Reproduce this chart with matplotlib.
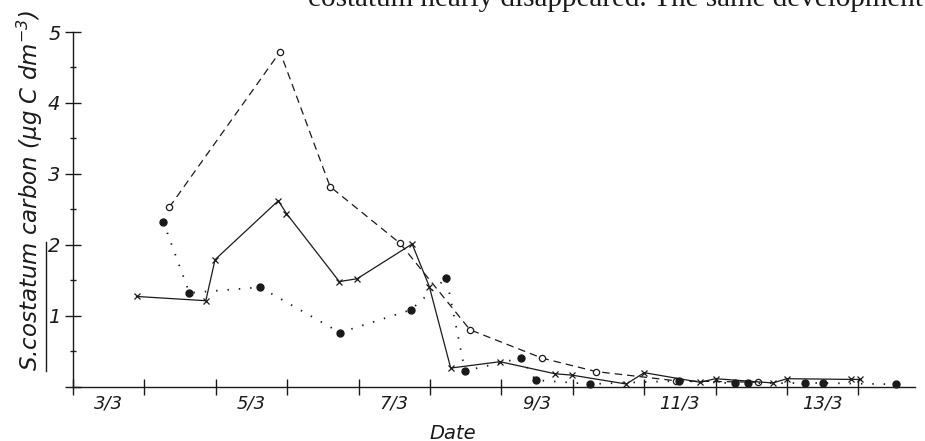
import numpy as np
import matplotlib.pyplot as plt
from matplotlib.ticker import FixedLocator, NullFormatter, FixedFormatter
from matplotlib.lines import Line2D

plt.rcParams['font.family'] = 'DejaVu Sans'
plt.rcParams['mathtext.fontset'] = 'custom'
plt.rcParams['mathtext.it'] = 'DejaVu Sans:italic'
plt.rcParams['mathtext.rm'] = 'DejaVu Sans:italic'

# day axis: day d starts at x=d
dash_days = [4.35, 5.90, 6.60, 7.58, 8.56, 9.57, 10.33, 11.45, 12.60]
dash_vals = [2.53, 4.72, 2.82, 2.02, 0.80, 0.40, 0.21, 0.08, 0.06]

solid_days = [3.89, 4.86, 4.99, 5.875, 5.99, 6.73, 6.98, 7.75, 7.99, 8.29, 8.98,
              9.75, 9.99, 10.75, 11.0, 11.78, 12.0, 12.8, 13.0, 13.89, 14.02]
solid_vals = [1.27, 1.21, 1.79, 2.62, 2.44, 1.48, 1.52, 2.01, 1.41, 0.26, 0.35,
              0.18, 0.16, 0.035, 0.195, 0.06, 0.11, 0.05, 0.11, 0.10, 0.10]

dot_days = [4.265, 4.63, 5.62, 6.74, 7.73, 8.23, 8.49, 9.27, 9.48, 10.24,
            11.49, 12.27, 12.46, 13.25, 13.51, 14.53]
dot_vals = [2.32, 1.32, 1.40, 0.76, 1.08, 1.53, 0.22, 0.40, 0.09, 0.035,
            0.08, 0.045, 0.045, 0.05, 0.05, 0.03]

day_ticks = [3, 4, 5, 6, 7, 8, 9, 10, 11, 12, 13, 14]
label_pos = [3.5, 5.5, 7.5, 9.5, 11.5, 13.5]
date_labels = ['3/3', '5/3', '7/3', '9/3', '11/3', '13/3']

ink = '#1a1a1a'

fig = plt.figure(figsize=(9.25, 4.41), dpi=100)
ax = fig.add_axes([73/925, 1-386.5/441, 842/925, 354.5/441])

ax.plot(dash_days, dash_vals, color=ink, lw=0.9, ls=(0, (6, 4)),
        marker='o', ms=4.5, mfc='white', mec=ink, mew=0.9, clip_on=False)
ax.plot(solid_days, solid_vals, color=ink, lw=0.9, ls='-',
        marker='x', ms=5, mew=0.9, clip_on=False)
ax.plot(dot_days, dot_vals, color=ink, lw=1.3, ls=(0, (0.8, 5.5)),
        marker='o', ms=5, mfc=ink, mec=ink, clip_on=False)

ax.set_xlim(3, 3 + 842/71.4)
ax.set_ylim(0, 5)

for s in ['top', 'right']:
    ax.spines[s].set_visible(False)
for s in ['left', 'bottom']:
    ax.spines[s].set_color(ink)
    ax.spines[s].set_linewidth(1.0)

# x: day boundaries as major ticks, labels centred on days
ax.xaxis.set_major_locator(FixedLocator(day_ticks))
ax.xaxis.set_major_formatter(NullFormatter())
ax.xaxis.set_minor_locator(FixedLocator(label_pos))
ax.xaxis.set_minor_formatter(FixedFormatter(date_labels))
ax.tick_params(axis='x', which='major', direction='inout', length=11, width=1.0, color=ink)
ax.tick_params(axis='x', which='minor', length=0, pad=6, labelsize=13, labelcolor=ink)

ax.set_yticks([0, 1, 2, 3, 4, 5])
ax.set_yticks([0.5, 1.5, 2.5, 3.5, 4.5], minor=True)
ax.set_yticklabels(['', '1', '2', '3', '4', '5'])
ax.tick_params(axis='y', which='major', direction='inout', length=12, width=1.0,
               color=ink, pad=3, labelsize=14, labelcolor=ink)
ax.tick_params(axis='y', which='minor', direction='inout', length=5, width=1.0, color=ink)

for lab in ax.get_xticklabels(minor=True) + ax.get_yticklabels():
    lab.set_fontstyle('italic')

ax.set_xlabel('Date', fontsize=14, fontstyle='italic', color=ink)
ax.xaxis.set_label_coords((453-73)/842, -0.105)

# y label drawn by hand so that the species name can be underlined
ylab = fig.text(30/925, 1-191/441, 'S.costatum carbon (µg C dm$^{-3}$)', rotation=90,
                ha='center', va='center', fontsize=16.5, fontstyle='italic', color=ink)
fig.canvas.draw()
r = fig.canvas.get_renderer()
bb = ylab.get_window_extent(r)
tmp = fig.text(0, 0, 'S.costatum', rotation=90, fontsize=16.5, fontstyle='italic')
h = tmp.get_window_extent(r).height
tmp.remove()
W, H = fig.bbox.width, fig.bbox.height
ux = (bb.x1 + 1) / W
fig.add_artist(Line2D([ux, ux], [bb.y0 / H, (bb.y0 + h) / H], color=ink, lw=1.0))

fig.text(308/925, 1-6/441, 'costatum nearly disappeared. The same development',
         fontfamily='Liberation Serif', fontsize=21, va='baseline', color=ink)

fig.savefig('out.png', dpi=100)
